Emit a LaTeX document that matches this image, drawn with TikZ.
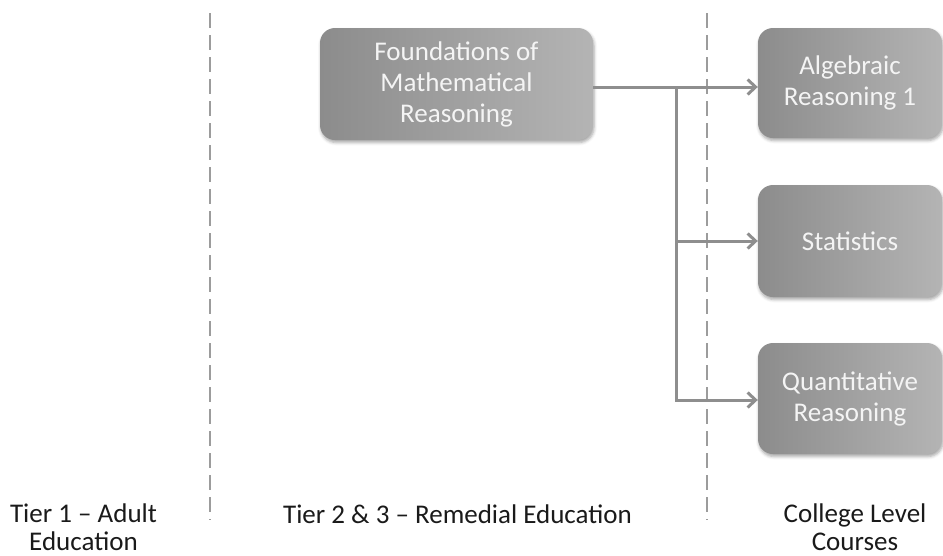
\documentclass[tikz,border=0pt]{standalone}
\usepackage{fontspec}
\setmainfont{Carlito}
\usetikzlibrary{arrows.meta,shadows.blur,calc}

\definecolor{boxdark}{HTML}{8C8C8C}
\definecolor{boxlight}{HTML}{B4B4B4}
\definecolor{linkgray}{HTML}{8E8E8E}
\definecolor{divgray}{HTML}{9C9C9C}
\definecolor{boxtext}{HTML}{F4F4F4}
\definecolor{labeltext}{HTML}{1A1A1A}

\tikzset{
  course/.style={
    rounded corners=15pt, left color=boxdark, right color=boxlight,
    draw=none, text=boxtext, align=center,
    font=\fontsize{27}{31}\selectfont,
    blur shadow={shadow xshift=1pt, shadow yshift=-2.5pt,
                 shadow blur radius=3pt, shadow opacity=35}
  },
  divider/.style={draw=divgray, line width=2.8pt,
                  dash pattern=on 15pt off 7pt},
  link/.style={draw=linkgray, line width=3pt},
  linkarrow/.style={link, -{Straight Barb[length=8pt,width=15pt]}},
  tierlabel/.style={text=labeltext, align=center,
                    font=\fontsize{27}{28}\selectfont}
}

\begin{document}
\begin{tikzpicture}[x=1pt,y=-1pt]
  \useasboundingbox (0,0) rectangle (943,555);

  % column dividers
  \coordinate (d1top) at (210,13);
  \coordinate (d1bot) at (210,520);
  \coordinate (d2top) at (707,13);
  \coordinate (d2bot) at (707,520);
  \draw[divider] (d1top) -- (d1bot);
  \draw[divider] (d2top) -- (d2bot);

  % course boxes
  \node[course, minimum width=273pt, minimum height=112pt] (found) at (456.5,84)
    {Foundations of\\Mathematical\\Reasoning};
  \node[course, minimum width=184pt, minimum height=110pt] (alg) at (850,83)
    {Algebraic\\Reasoning 1};
  \node[course, minimum width=184pt, minimum height=112pt] (stat) at (850,241)
    {Statistics};
  \node[course, minimum width=184pt, minimum height=111pt] (quant) at (850,398.5)
    {Quantitative\\Reasoning};

  % connectors
  \coordinate (split) at (676,87);
  \draw[link] (found.east |- split) -- (split);
  \draw[linkarrow] (split) -- (alg.west |- split);
  \draw[linkarrow] (split) |- (stat.west);
  \draw[linkarrow] (split) |- ($(quant.west)+(0,1.5)$);

  % tier labels (base anchor sits on the last line)
  \node[tierlabel, anchor=base] (t1) at (83.5,550) {Tier 1 -- Adult\\Education};
  \node[tierlabel, anchor=base] (t2) at (457.5,523) {Tier 2 \& 3 -- Remedial Education};
  \node[tierlabel, anchor=base] (t3) at (855,550) {College Level\\Courses};
\end{tikzpicture}
\end{document}
